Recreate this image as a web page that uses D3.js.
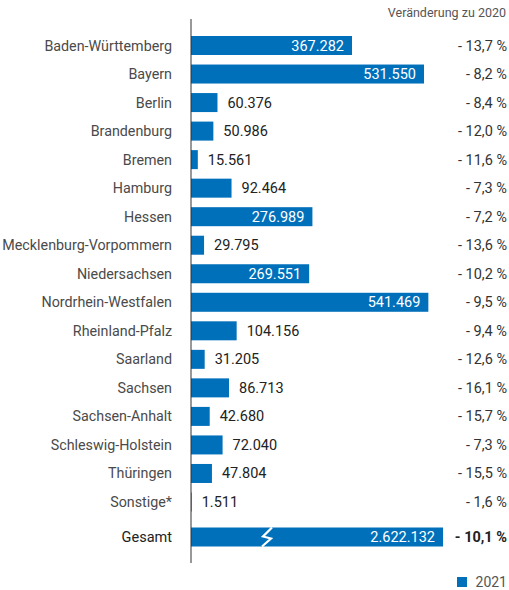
<!DOCTYPE html>
<meta charset="utf-8">
<script src="https://d3js.org/d3.v7.min.js"></script>
<style>
  body { margin: 0; background: #fff; }
  text { font-family: Roboto, "Open Sans", sans-serif; }
</style>
<div id="chart"></div>
<script>
// data
var laender = ["Baden-Württemberg", "Bayern", "Berlin", "Brandenburg", "Bremen", "Hamburg",
  "Hessen", "Mecklenburg-Vorpommern", "Niedersachsen", "Nordrhein-Westfalen",
  "Rheinland-Pfalz", "Saarland", "Sachsen", "Sachsen-Anhalt", "Schleswig-Holstein",
  "Thüringen", "Sonstige*"];
var werte2021 = [367282, 531550, 60376, 50986, 15561, 92464, 276989, 29795, 269551,
  541469, 104156, 31205, 86713, 42680, 72040, 47804, 1511];
var veraenderung = [-13.7, -8.2, -8.4, -12.0, -11.6, -7.3, -7.2, -13.6, -10.2,
  -9.5, -9.4, -12.6, -16.1, -15.7, -7.3, -15.5, -1.6];
var gesamtLabel = "Gesamt";
var gesamtWert = 2622132;
var gesamtVeraenderung = -10.1;
var gesamtBruch = 575000; // bar is drawn broken at this value
var legendeJahr = "2021";
var kopfText = "Veränderung zu 2020";

var width = 509, height = 590;
var blue = "#0070bb", grey = "#4a4a4a";

var svg = d3.select("#chart").append("svg")
  .attr("width", width).attr("height", height);

var x = d3.scaleLinear().domain([0, 531550]).range([191, 424]);
var y = d3.scalePoint().domain(laender).range([45.5, 502]);
var bh = 19;

var fmt = function (v) { return d3.format(",")(v).replace(/,/g, "."); };
var fmtPct = function (v) { return "- " + Math.abs(v).toFixed(1).replace(".", ",") + " %"; };

var rows = laender.map(function (d, i) { return {name: d, v: werte2021[i], p: veraenderung[i]}; });
var inside = function (d) { return d.v > 200000; };

// header
svg.append("text").attr("x", 506).attr("y", 17).attr("text-anchor", "end")
  .attr("font-size", 12.5).attr("fill", "#555").text(kopfText);

var g = svg.append("g");
g.selectAll("rect").data(rows).enter().append("rect")
  .attr("x", x(0)).attr("y", function (d) { return y(d.name) - bh / 2; })
  .attr("width", function (d) { return x(d.v) - x(0); })
  .attr("height", bh).attr("fill", blue);

g.selectAll(".lab").data(rows).enter().append("text")
  .attr("x", 172).attr("y", function (d) { return y(d.name) + 5; })
  .attr("text-anchor", "end").attr("font-size", 14.3).attr("fill", grey)
  .text(function (d) { return d.name; });

g.selectAll(".val").data(rows).enter().append("text")
  .attr("x", function (d) { return inside(d) ? x(d.v) - 8 : x(d.v) + 10; })
  .attr("y", function (d) { return y(d.name) + 5; })
  .attr("text-anchor", function (d) { return inside(d) ? "end" : "start"; })
  .attr("font-size", 14.5)
  .attr("fill", function (d) { return inside(d) ? "#fff" : "#222"; })
  .text(function (d) { return fmt(d.v); });

g.selectAll(".pct").data(rows).enter().append("text")
  .attr("x", 507).attr("y", function (d) { return y(d.name) + 5; })
  .attr("text-anchor", "end").attr("font-size", 14.5).attr("fill", "#333")
  .text(function (d) { return fmtPct(d.p); });

// Gesamt
var gy = 537;
svg.append("rect").attr("x", x(0)).attr("y", gy - bh / 2)
  .attr("width", x(gesamtBruch) - x(0)).attr("height", bh).attr("fill", blue);
svg.append("path")
  .attr("d", "M272," + (gy - bh / 2) + " L263," + (gy - 0.5) + " L271," + (gy + 1.5) + " L262," + (gy + bh / 2))
  .attr("fill", "none").attr("stroke", "#fff").attr("stroke-width", 2.2);
svg.append("text").attr("x", 172).attr("y", gy + 5).attr("text-anchor", "end")
  .attr("font-size", 14.5).attr("fill", "#222").text(gesamtLabel);
svg.append("text").attr("x", x(gesamtBruch) - 8).attr("y", gy + 5).attr("text-anchor", "end")
  .attr("font-size", 14.5).attr("fill", "#fff").text(fmt(gesamtWert));
svg.append("text").attr("x", 507).attr("y", gy + 5).attr("text-anchor", "end")
  .attr("font-size", 14.5).attr("font-weight", "bold").attr("fill", "#222").text(fmtPct(gesamtVeraenderung));

// axis line
svg.append("line").attr("x1", x(0)).attr("x2", x(0)).attr("y1", 19).attr("y2", 563)
  .attr("stroke", "#333").attr("stroke-width", 1);

// legend
svg.append("rect").attr("x", 457).attr("y", 577).attr("width", 10).attr("height", 10).attr("fill", blue);
svg.append("text").attr("x", 507).attr("y", 586.5).attr("text-anchor", "end")
  .attr("font-size", 14).attr("fill", "#555").text(legendeJahr);
</script>
